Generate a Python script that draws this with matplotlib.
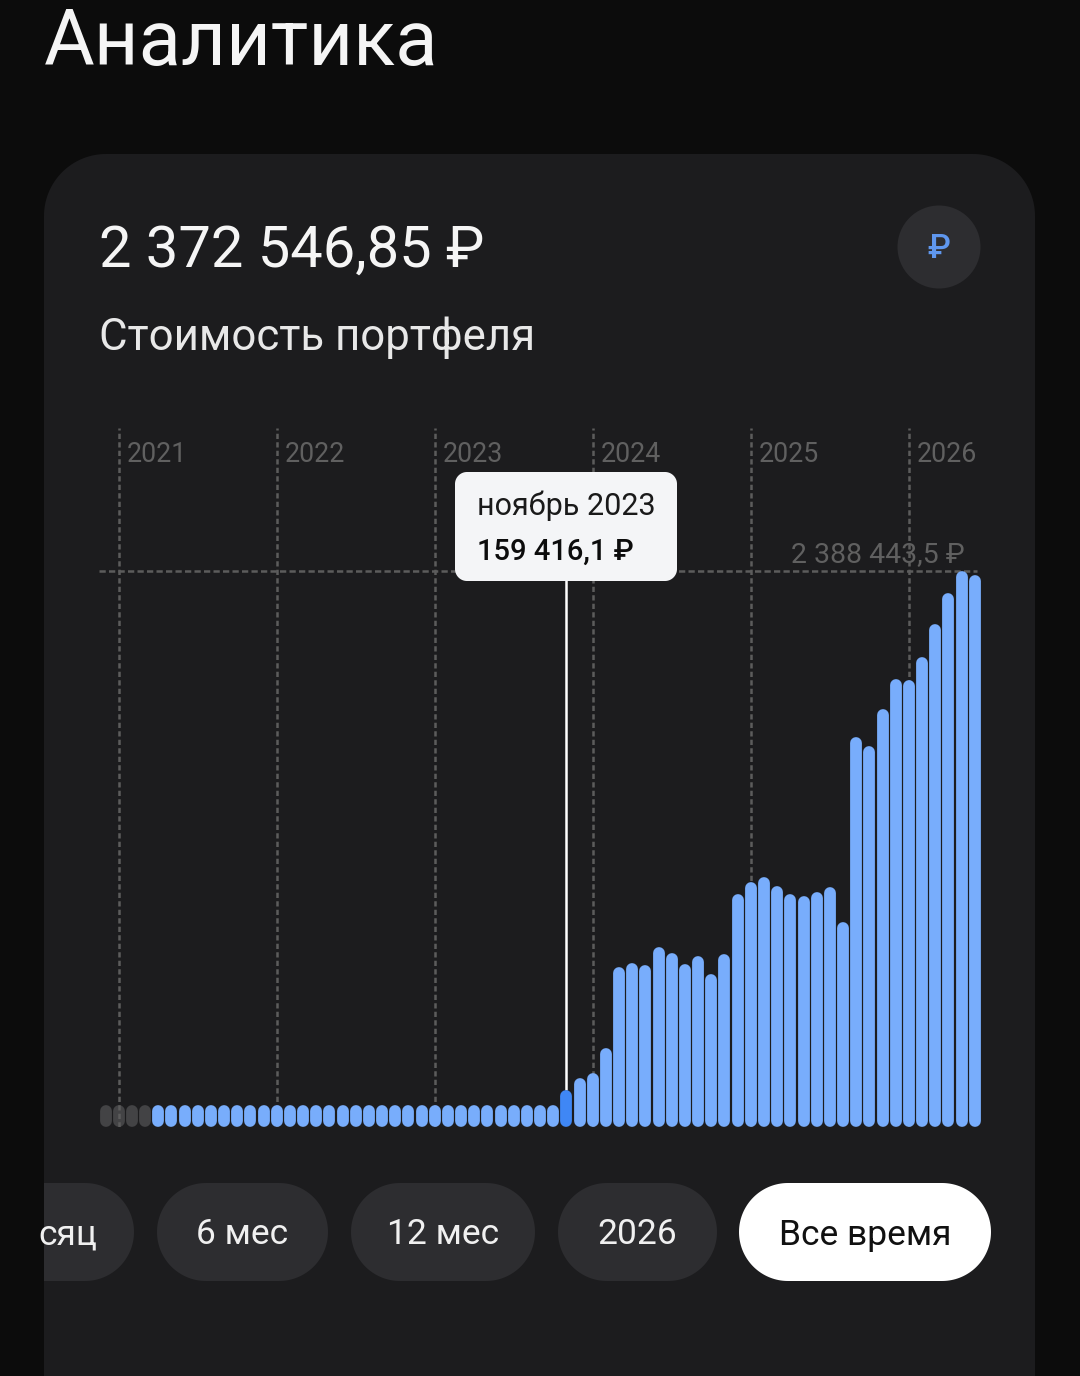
import numpy as np
import matplotlib
matplotlib.use('Agg')
import matplotlib.pyplot as plt
from matplotlib.patches import Polygon, Circle

plt.rcParams['font.family'] = ['Roboto', 'DejaVu Sans']

W, H = 1080, 1376

# monthly portfolio value, dec 2020 .. jun 2026 (rubles)
empty_months = [0, 0, 0, 0]
small_months = [94500, 94500, 94500, 94500, 94500, 94500, 94500, 94500, 94500, 94500, 94500,
                94500, 94500, 94500, 94500, 94500, 94500, 94500, 94500, 94500, 94500, 94500,
                94500, 94500, 94500, 94500, 94500, 94500, 94500, 94500, 94500]
grown_months = [159416.1, 210500, 232000, 339400, 687400, 704500, 696000, 773300, 747500, 700000,
                734600, 657300, 743200, 1001000, 1052500, 1074000, 1035300, 1001000, 992400,
                1009600, 1031000, 880700, 1675400, 1636800, 1795700, 1924600, 1920300, 2019100,
                2160900, 2294100, 2388443.5, 2372546.85]
values = np.array(empty_months + small_months + grown_months)

years = ['2021', '2022', '2023', '2024', '2025', '2026']
year_idx = [1, 13, 25, 37, 49, 61]
selected = 35
max_value = 2388443.5
periods = ['сяц', '6 мес', '12 мес', '2026', 'Все время']

BG = '#0c0c0c'
CARD = '#1c1c1e'
PILL = '#2d2d30'
GRID = '#5c5c5c'
BLUE = '#78adfc'
BLUE_SEL = '#3f87f5'
GREY_BAR = '#434345'

fig = plt.figure(figsize=(W / 100, H / 100), dpi=100, facecolor=BG)


def px_axes(zorder):
    a = fig.add_axes([0, 0, 1, 1], zorder=zorder)
    a.set_xlim(0, W)
    a.set_ylim(H, 0)
    a.axis('off')
    return a


def rounded(a, x0, y0, x1, y1, r, color):
    # true circular corners, FancyBboxPatch comes out too square
    t = np.linspace(0, np.pi / 2, 40)
    pts = []
    for cx, cy, start in [(x1 - r, y0 + r, -np.pi / 2), (x1 - r, y1 - r, 0),
                          (x0 + r, y1 - r, np.pi / 2), (x0 + r, y0 + r, np.pi)]:
        pts.append(np.column_stack([cx + r * np.cos(start + t), cy + r * np.sin(start + t)]))
    p = Polygon(np.vstack(pts), closed=True, fc=color, ec='none')
    a.add_patch(p)
    return p


# background + card
ui = px_axes(0)
card = rounded(ui, 44, 154, 1035, 1500, 62, CARD)
ui.text(44, 43, 'Аналитика', color='#f5f5f5', fontsize=56, va='center', ha='left')
ui.text(99, 251, '2 372 546,85 ₽', color='#f5f5f5', fontsize=41.7, va='center', ha='left')
ui.text(99, 338, 'Стоимость портфеля', color='#e8e8e8', fontsize=31.5, va='center', ha='left')
ui.add_patch(Circle((939, 247), 41.5, fc=PILL, ec='none'))
ui.text(939, 249, '₽', color='#5f97ee', fontsize=24, fontweight='medium', va='center', ha='center')

# period buttons, the first one is scrolled under the card edge
pill_x = [(-60, 134), (157, 328), (351, 535), (558, 717), (739, 991)]
for i, (label, (x0, x1)) in enumerate(zip(periods, pill_x)):
    active = label == 'Все время'
    p = rounded(ui, x0, 1183, x1, 1281, 49, 'white' if active else PILL)
    p.set_clip_path(card)
    if i == 0:
        ui.text(97, 1235, label, color='#f0f0f0', fontsize=25.5, va='center', ha='right')
    else:
        ui.text((x0 + x1) / 2, 1235, label, color='#111111' if active else '#f0f0f0',
                fontsize=25.5, va='center', ha='center')

# chart axes: month index on x, rubles on y
left_px, right_px, bottom_px, top_px, max_px = 99, 981, 1127, 428, 571
step = 13.17
first_bar_px = 105.5
per_px = max_value / (bottom_px - max_px)
ax = fig.add_axes([left_px / W, 1 - bottom_px / H, (right_px - left_px) / W, (bottom_px - top_px) / H],
                  zorder=1)
ax.set_xlim((left_px - first_bar_px) / step, (right_px - first_bar_px) / step)
ax.set_ylim(0, (bottom_px - top_px) * per_px)
ax.axis('off')

bar_px = 11.8
r = bar_px / 2 * per_px
lw = bar_px * 72 / 100
x = np.arange(len(values))
min_bar = 94500
heights = np.maximum(values, min_bar)
colors = [GREY_BAR if v == 0 else BLUE for v in values]
colors[selected] = BLUE_SEL

grey = values == 0
ax.vlines(x[grey], r, heights[grey] - r, colors=GREY_BAR, lw=lw, capstyle='round', zorder=1)
ax.vlines(year_idx, 0, ax.get_ylim()[1], colors=GRID, lw=1.8, linestyles=(0, (2.1, 1.3)), zorder=2)
ax.hlines(max_value, ax.get_xlim()[0], 66.2, colors=GRID, lw=1.8, linestyles=(0, (2.5, 1.3)), zorder=2)
ax.vlines(x[~grey], r, heights[~grey] - r, colors=[c for c, g in zip(colors, grey) if not g],
          lw=lw, capstyle='round', zorder=3)
ax.vlines(selected, values[selected], max_value, colors='white', lw=1.8, zorder=2.5)

for y_label, i in zip(years, year_idx):
    ax.annotate(y_label, (i, ax.get_ylim()[1]), xytext=(5.5, -19), textcoords='offset points',
                color='#606060', fontsize=19.3, va='center', ha='left')
ax.annotate('2 388 443,5 ₽', (65, max_value), xytext=(965, H - 555), xycoords='data',
            textcoords='figure pixels', color='#606060', fontsize=20.5, va='center', ha='right', zorder=1.5)

# tooltip
top = px_axes(2)
rounded(top, 455, 472, 677, 581, 12, '#f4f5f7')
top.text(477, 506, 'ноябрь 2023', color='#1a1a1a', fontsize=22, va='center', ha='left')
top.text(477, 552, '159 416,1 ₽', color='#0c0c0c', fontsize=21, fontweight='medium', va='center', ha='left')

fig.savefig('out.png', dpi=100, facecolor=BG)
